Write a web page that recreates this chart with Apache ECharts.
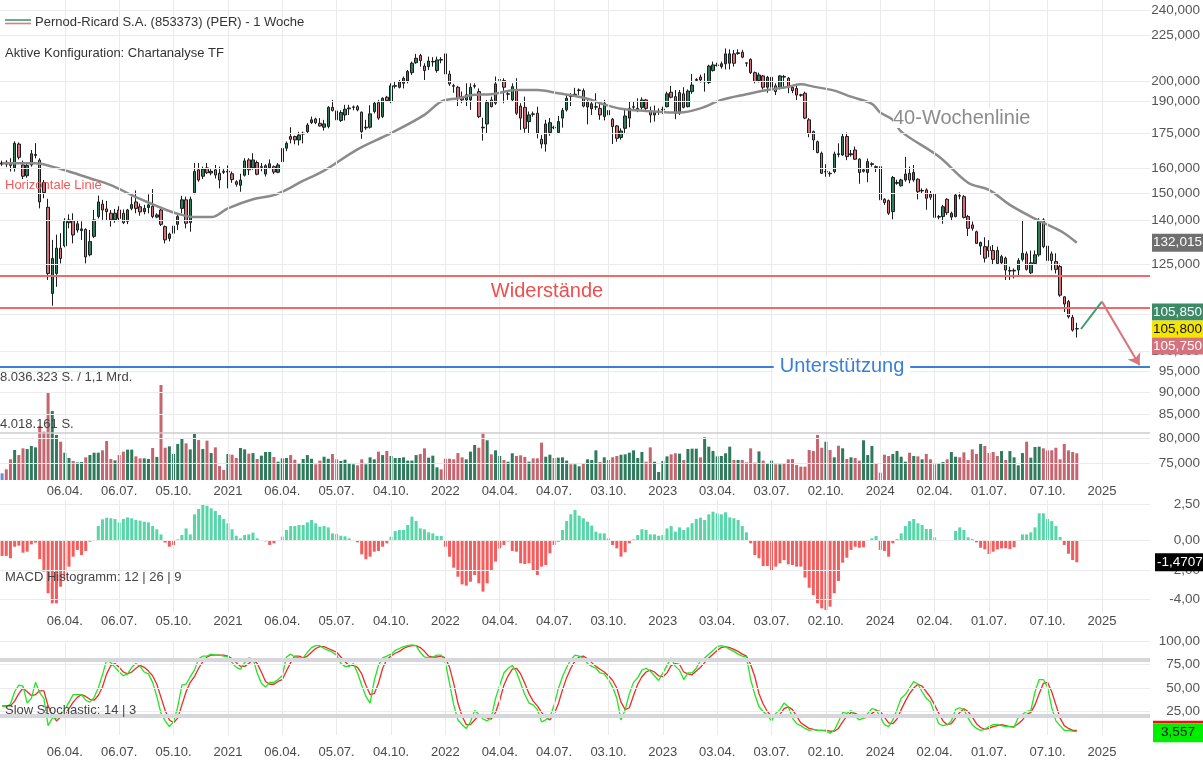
<!DOCTYPE html>
<html><head><meta charset="utf-8">
<script src="https://cdn.jsdelivr.net/npm/echarts@6/dist/echarts.min.js"></script>
<style>html,body{margin:0;padding:0;background:#fff}#c{width:1203px;height:766px}</style>
</head><body><div id="c"></div>
<script>
// ---------- DATA ----------
// weekly candles from week of 2019-12-23: [open, high, low, close] (EUR)
const weeklyOHLC = [
[161.6,163.0,160.8,162.0],[162.4,163.2,160.3,161.5],[162.0,164.0,158.5,161.0],[160.0,171.3,158.5,170.4],[170.1,170.8,163.5,164.4],
[161.2,163.0,155.5,156.6],[156.8,162.2,156.0,161.0],[161.2,167.5,160.5,165.9],[165.2,170.5,164.0,165.6],[163.2,164.0,144.2,146.6],
[154.1,155.1,148.0,150.2],[144.6,147.8,120.0,122.0],[115.9,133.0,112.3,126.8],[122.0,134.8,117.9,130.2],[130.2,135.3,125.2,126.8],
[131.0,140.6,130.5,139.4],[139.0,142.0,137.0,140.0],[139.7,142.4,131.8,134.7],[136.4,140.0,135.5,138.6],[136.2,139.5,133.0,136.8],
[136.6,137.0,125.2,127.3],[128.0,136.4,127.5,132.4],[134.2,143.6,133.6,140.0],[141.2,149.0,140.5,146.6],[145.8,147.4,140.0,143.6],
[144.0,147.0,140.0,143.0],[142.4,143.6,137.6,140.0],[140.0,144.0,139.0,142.4],[143.6,145.0,139.5,140.5],[142.4,143.8,138.5,139.0],
[139.5,144.0,138.5,143.6],[144.2,148.6,143.5,145.6],[146.6,151.0,142.4,144.2],[144.8,146.0,141.5,142.9],[143.0,145.5,142.0,144.2],
[144.5,149.5,142.4,145.5],[145.0,151.5,140.6,141.2],[141.0,142.4,140.6,141.8],[143.6,144.0,137.8,138.4],[137.6,138.0,131.8,133.0],
[133.5,135.5,132.5,135.0],[135.3,138.5,134.5,137.8],[138.4,141.8,136.4,141.2],[144.2,148.9,142.4,147.4],[147.4,148.6,137.0,138.8],
[139.0,148.6,135.8,147.6],[150.1,162.0,149.5,158.5],[159.2,162.0,154.4,155.1],[156.6,160.5,155.5,159.5],[160.0,162.0,157.5,158.0],
[157.9,159.5,157.0,158.6],[159.2,161.2,155.7,157.1],[157.8,160.5,151.8,155.1],[158.6,159.5,157.5,158.2],[158.3,161.0,151.8,158.6],
[157.6,158.5,154.0,155.3],[154.4,155.0,152.5,153.4],[153.0,157.6,150.5,155.1],[157.0,164.0,156.5,162.9],[163.3,164.0,157.1,159.2],
[160.0,166.1,159.2,163.3],[162.2,163.0,157.0,157.4],[160.2,162.0,158.6,160.5],[157.5,161.5,156.5,160.9],[160.0,163.5,159.5,161.7],
[160.5,161.0,157.5,158.3],[158.2,162.0,157.8,161.2],[162.6,169.0,161.5,168.2],[168.3,171.2,167.0,170.4],[173.4,177.6,170.4,172.2],
[173.4,173.8,170.0,171.9],[171.9,175.5,169.5,174.1],[174.5,175.6,170.4,174.9],[175.6,179.5,175.0,178.6],[179.7,182.5,179.1,181.0],
[181.4,182.0,179.0,179.7],[179.4,181.8,177.9,178.2],[177.6,181.0,176.1,179.1],[177.9,187.5,177.1,186.9],[186.9,190.5,184.9,185.4],
[185.2,186.4,179.1,181.0],[180.7,185.5,180.0,184.4],[183.3,188.1,180.7,186.0],[186.2,188.1,183.3,186.6],[186.9,187.8,185.5,187.1],
[187.2,188.0,185.0,185.7],[184.6,184.9,172.4,175.6],[177.3,181.0,176.4,177.6],[177.6,187.9,177.0,183.8],[184.9,189.6,184.0,188.9],
[189.2,190.5,181.0,181.8],[182.5,191.8,181.8,191.3],[191.8,192.5,189.5,190.2],[189.7,198.8,188.9,197.5],[197.3,199.7,196.2,197.6],
[196.8,200.5,196.2,199.7],[198.8,202.3,196.2,201.4],[200.0,205.7,198.8,204.9],[204.3,210.2,203.1,209.3],[209.6,214.4,209.0,212.0],
[213.5,214.4,207.5,210.7],[207.8,209.3,200.5,205.4],[207.5,212.9,205.7,210.5],[210.0,212.6,207.5,210.3],[205.4,212.9,204.3,211.1],
[211.3,212.6,209.3,211.0],[214.4,217.0,201.4,203.6],[203.6,205.4,197.5,198.5],[197.6,198.5,194.0,197.3],[196.8,197.5,187.5,191.3],
[192.1,194.6,188.9,190.5],[190.5,198.8,187.5,193.0],[190.5,198.8,185.7,196.8],[197.3,198.8,196.2,197.6],[194.6,196.2,181.8,182.5],
[177.6,182.0,171.6,177.3],[179.1,190.5,174.9,189.2],[190.5,192.1,186.9,187.2],[188.9,202.3,188.1,198.5],[200.3,203.6,198.8,200.7],
[200.2,201.4,188.9,196.8],[193.3,195.4,190.5,193.5],[190.5,198.8,189.7,197.1],[195.4,201.4,183.3,184.1],[187.5,188.9,176.4,181.8],
[186.9,192.1,175.1,177.1],[180.2,184.9,174.5,183.3],[183.8,184.9,182.5,183.6],[184.1,187.2,172.6,174.9],[172.2,174.1,168.2,170.1],
[170.1,181.0,166.8,179.1],[175.2,181.8,173.8,179.7],[177.6,178.3,176.7,177.3],[175.2,182.8,174.9,180.2],[181.8,186.6,177.4,185.4],
[185.7,192.9,184.9,191.3],[192.4,193.8,187.5,192.1],[193.0,196.5,192.1,193.3],[195.2,196.2,193.0,195.4],[195.1,196.2,186.9,187.5],
[187.1,190.5,178.9,189.7],[186.2,189.7,183.3,188.6],[187.0,193.8,185.7,187.2],[186.4,189.7,181.0,183.3],[182.5,190.5,180.7,188.9],
[185.4,187.2,182.5,183.3],[181.3,181.8,170.1,177.9],[178.2,178.6,171.1,172.6],[173.0,177.1,172.0,175.9],[177.1,186.6,174.5,182.8],
[181.8,189.7,177.6,186.4],[187.0,189.7,185.4,187.2],[185.4,191.3,184.6,186.4],[186.9,191.8,185.9,190.5],[190.5,191.0,185.5,186.4],
[184.9,187.2,179.7,183.3],[183.3,187.8,180.2,184.6],[184.6,186.4,183.3,185.1],[185.7,187.2,183.8,186.0],[187.2,194.6,186.9,193.5],
[194.3,197.5,191.3,191.8],[192.1,195.4,181.3,184.1],[184.1,195.4,183.3,194.1],[193.5,196.8,186.4,186.9],[187.2,195.7,186.9,194.9],
[194.6,203.6,193.5,197.9],[200.3,201.4,199.7,200.7],[202.0,203.3,199.2,200.5],[199.5,204.0,194.6,199.7],[199.2,208.5,198.5,207.8],
[205.4,210.2,204.9,208.4],[208.1,209.6,207.5,208.4],[207.5,210.2,206.4,209.0],[209.0,217.4,206.0,214.4],[209.3,216.9,206.0,214.4],
[214.4,216.6,207.5,209.3],[214.6,216.9,213.9,215.0],[215.3,216.6,212.0,212.6],[209.5,209.6,207.5,209.3],[211.4,211.9,203.6,204.3],
[204.3,204.9,198.8,199.7],[200.2,204.3,199.2,203.1],[202.6,203.1,195.7,196.8],[196.8,202.6,194.0,201.9],[196.8,202.6,195.4,201.9],
[197.5,198.8,192.9,194.6],[196.8,203.1,195.7,202.6],[202.3,203.1,196.2,202.0],[201.4,202.0,193.8,196.8],[196.8,197.5,193.8,195.1],
[196.2,197.5,190.5,192.9],[193.0,193.5,192.1,192.8],[193.8,194.6,181.3,181.8],[181.0,181.8,173.1,174.9],[175.6,176.1,167.5,171.9],
[171.1,171.6,166.1,166.4],[166.1,166.8,157.5,157.8],[158.3,161.5,156.4,158.5],[157.8,158.5,156.4,157.6],[158.5,166.8,157.8,165.8],
[165.9,170.4,164.4,165.6],[165.4,174.9,165.0,173.4],[173.4,175.2,163.2,164.7],[165.5,167.5,164.7,165.9],[167.5,169.0,163.3,163.6],
[163.6,164.0,153.6,158.1],[158.6,159.9,158.1,159.2],[158.1,163.9,154.2,162.6],[161.4,162.3,160.5,161.7],[160.5,161.0,158.3,160.2],
[160.5,160.8,143.0,147.4],[147.6,148.0,145.5,146.4],[147.1,147.5,141.8,142.4],[143.0,156.7,140.2,156.1],[153.8,155.2,153.2,154.1],
[152.8,155.6,152.5,155.1],[155.1,164.6,154.4,157.5],[157.8,160.5,153.8,155.1],[155.1,161.2,154.4,158.1],[155.4,155.8,147.6,150.5],
[150.8,151.8,149.9,151.0],[151.2,151.8,143.7,148.0],[149.5,150.8,147.4,148.4],[149.6,149.9,140.2,140.9],[141.0,141.8,140.2,141.2],
[141.2,145.5,138.6,144.8],[147.6,148.0,141.8,142.6],[141.0,143.0,139.7,142.4],[141.2,149.9,140.9,149.2],[149.0,150.2,147.6,148.8],
[148.6,149.2,140.5,140.9],[141.2,141.8,134.3,137.0],[138.2,139.4,136.2,137.0],[135.8,136.2,131.6,131.8],[130.9,132.4,128.0,132.1],
[130.7,133.9,125.5,126.9],[130.7,132.9,127.2,129.4],[129.4,131.3,125.0,126.5],[129.4,130.7,125.0,125.2],[125.4,128.0,125.0,127.4],
[126.9,127.4,120.0,123.1],[122.8,124.2,120.0,122.9],[122.8,123.6,120.5,123.0],[123.1,126.9,121.0,126.1],[126.5,140.0,125.8,128.5],
[128.3,129.1,122.9,123.3],[122.2,129.4,121.8,125.4],[125.2,129.4,124.7,128.0],[128.0,140.6,127.4,139.4],[140.0,140.6,130.2,130.7],
[130.9,131.6,125.8,126.1],[128.3,129.1,123.0,126.1],[125.8,128.5,122.0,123.3],[124.2,125.1,114.9,115.4],[114.9,115.1,110.5,112.8],
[113.5,114.0,108.7,109.2],[109.0,109.7,105.1,105.5],[105.9,107.5,103.5,105.8]
];
// weekly volume, million shares
const volumeMio = [
0.56,0.90,1.75,2.54,2.11,2.68,2.62,2.88,2.76,4.57,
4.09,7.44,5.84,3.81,3.24,2.31,1.86,1.61,1.49,1.52,
1.92,2.11,2.31,2.31,2.51,3.30,1.78,1.66,2.11,2.40,
2.57,2.57,2.00,1.83,1.83,1.78,2.71,1.95,8.036323,2.73,
2.85,2.20,3.05,3.47,3.10,2.59,3.89,3.38,2.62,3.33,
2.28,2.76,1.18,0.85,2.20,2.14,1.86,2.71,2.59,2.23,
2.28,1.78,2.06,2.37,2.37,1.95,1.55,1.83,1.86,2.11,
1.72,1.41,1.78,2.11,1.80,1.33,1.64,1.97,1.80,2.20,
1.75,1.61,1.72,1.41,1.33,1.24,1.75,1.33,1.92,1.75,
2.40,2.11,2.45,2.03,1.86,1.86,1.92,1.64,1.64,2.11,
2.20,2.68,1.89,2.06,1.07,0.90,1.80,1.80,1.75,2.28,
1.92,1.75,2.40,2.96,2.73,3.95,3.36,2.17,2.51,2.03,
1.69,1.55,2.26,2.03,2.09,1.95,1.55,1.83,1.83,3.16,
1.97,2.14,1.86,1.89,1.92,1.64,1.33,1.33,1.16,1.41,
1.75,1.69,2.51,1.52,1.92,1.69,1.92,2.03,2.14,2.17,
2.31,2.51,1.86,2.37,1.55,2.76,1.55,0.68,1.61,2.00,
2.17,2.26,2.23,1.69,2.62,2.65,2.65,1.92,3.61,2.82,
2.45,2.00,2.03,2.26,2.82,1.69,1.69,1.69,1.49,2.68,
1.47,2.42,1.64,1.35,1.64,1.33,1.33,1.35,1.75,1.78,
1.27,1.13,1.13,2.54,2.45,3.81,2.73,3.24,2.54,1.92,
2.90,2.68,1.78,1.92,1.86,1.64,3.36,2.11,2.88,1.41,
0.62,2.14,2.03,2.20,2.45,1.97,1.55,2.31,2.03,2.00,
1.75,2.20,1.75,1.33,1.41,1.52,1.75,2.37,1.97,1.92,
2.34,1.69,2.59,2.20,3.05,2.88,2.28,2.37,2.03,2.45,
1.69,2.45,1.92,1.24,2.28,3.24,1.89,2.79,2.82,2.68,
2.51,2.51,2.73,1.75,3.05,2.51,2.37,2.26
];
// MACD histogram 12|26|9
const macdHist = [
-1.04,-1.04,-1.20,-0.41,-0.34,-0.82,-0.75,-0.25,-0.13,-1.25,
-2.11,-3.59,-4.28,-4.28,-3.14,-2.57,-1.77,-1.09,-0.63,-0.98,
-0.70,-0.07,0.05,1.00,1.46,1.57,1.53,1.48,1.25,1.48,
1.59,1.53,1.41,1.37,1.30,1.25,1.00,0.78,0.43,-0.13,
-0.41,-0.29,0.09,0.39,0.84,0.43,1.80,2.16,2.44,2.39,
2.21,2.03,1.75,1.48,1.19,0.78,0.34,0.16,0.39,0.43,
0.55,0.16,0.00,-0.04,-0.29,-0.18,0.02,0.28,0.73,1.00,
1.00,1.07,1.07,1.25,1.41,1.19,0.96,1.00,0.91,0.50,
0.46,0.34,0.30,0.16,0.05,-0.11,-0.93,-1.27,-1.09,-0.75,
-0.70,-0.41,-0.18,0.28,0.66,0.73,0.73,1.07,1.64,1.34,
0.84,0.78,0.57,0.50,0.32,0.32,-0.41,-1.09,-1.84,-2.46,
-2.98,-3.07,-2.80,-2.34,-2.91,-3.48,-2.91,-2.07,-1.43,-0.52,
-0.29,-0.05,-0.70,-0.75,-1.54,-1.59,-1.54,-2.00,-2.34,-1.77,
-1.66,-0.86,-0.29,-0.07,0.73,1.34,1.80,2.10,1.71,1.53,
1.30,1.03,0.62,0.50,0.50,0.16,-0.29,-0.52,-1.09,-0.79,
-0.18,0.09,0.39,0.78,0.73,0.43,0.43,0.34,0.39,0.84,
1.00,0.62,0.91,0.73,0.91,1.19,1.48,1.57,1.41,1.80,
1.98,1.87,1.80,1.94,1.59,1.53,1.41,1.00,0.57,-0.18,
-0.98,-1.20,-1.73,-1.73,-2.05,-1.77,-1.54,-1.32,-1.61,-1.66,
-1.77,-1.77,-2.52,-3.21,-3.71,-4.28,-4.62,-4.73,-4.50,-3.59,
-2.75,-1.50,-1.16,-0.63,-0.41,-0.48,-0.45,0.02,0.16,0.32,
-0.63,-0.70,-1.09,-0.18,0.12,0.50,1.00,1.34,1.48,1.19,
1.07,0.80,0.80,0.23,0.02,0.05,0.05,0.05,0.66,0.91,
0.73,0.23,0.12,-0.11,-0.48,-0.59,-0.91,-0.75,-0.59,-0.52,
-0.52,-0.57,-0.45,0.00,0.43,0.43,0.57,0.91,1.87,1.87,
1.48,1.34,1.00,0.25,-0.29,-0.89,-1.32,-1.47071
];
// Slow stochastic 14|3: %K (green) and %D (red)
const stochK = [
31,30,33,46,53,52,34,39,56,45, 39,10,18,18,22,27,35,43,43,43,
37,35,40,50,64,80,77,72,67,63, 65,72,76,73,67,65,56,41,23,15,
9,14,30,53,54,62,69,81,84,84, 86,85,85,84,83,77,72,70,77,82,
81,66,55,51,56,56,59,63,83,86, 83,82,82,88,93,95,95,92,90,88,
85,76,73,73,76,66,53,41,34,58, 74,82,84,86,90,92,94,95,96,95,
88,83,82,83,85,85,77,55,32,16, 11,7,14,26,22,17,15,19,39,53,
66,71,74,67,55,43,34,32,27,14, 16,19,32,49,62,72,80,85,84,82,
76,73,71,66,65,59,51,39,16,27, 44,56,61,69,71,68,63,58,66,74,
82,73,69,59,66,66,71,79,82,86, 90,94,95,94,91,89,86,84,83,59,
43,30,25,21,15,23,27,34,30,18, 12,10,7,5,6,5,5,4,2,5,
14,24,23,26,20,16,18,23,28,27, 19,11,9,16,27,39,43,50,57,54,
46,39,35,23,12,10,11,15,27,29, 27,18,11,7,5,6,9,11,11,10,
9,9,8,19,22,25,26,46,59,59, 51,29,15,10,5,5,4,3.557
];
const stochD = [
31,31,31,36,44,50,46,42,43,47, 47,31,22,15,19,22,28,35,40,43,
41,38,37,42,51,65,74,76,72,67, 65,67,71,74,72,68,63,54,40,26,
16,13,18,32,46,56,62,71,78,83, 85,85,85,85,84,81,77,73,73,76,
80,76,67,57,54,54,57,59,68,77, 84,84,82,84,88,92,94,94,92,90,
88,83,78,74,74,72,65,53,43,44, 55,71,80,84,87,89,92,94,95,95,
93,89,84,83,83,84,82,72,55,34, 20,11,11,16,21,22,18,17,24,37,
53,63,70,71,65,55,44,36,31,24, 19,16,22,33,48,61,71,79,83,84,
81,77,73,70,67,63,58,50,35,27, 29,42,54,62,67,69,67,63,62,66,
74,76,75,67,65,64,68,72,77,82, 86,90,93,94,93,91,89,86,84,75,
62,44,33,25,20,20,22,28,30,27, 20,13,10,7,6,5,5,5,4,4,
7,14,20,24,23,21,18,19,23,26, 25,19,13,12,17,27,36,44,50,54,
52,46,40,32,23,15,11,12,18,24, 28,25,19,12,8,6,7,9,10,11,
10,9,9,12,16,22,24,32,44,55, 56,46,32,18,10,7,5,5
];
// 40-week line, read at knots: [week index, value]
const ma40Knots = [
[0,161.9],[8,161.9],[12,160.5],[16,158.5],[21,155.8],[26,153.1],[31,149.2],[35,146.4],[39,143.8],[43,141.8],
[46,141.0],[50,141.0],[54,144.2],[60,147.6],[65,149.2],[69,152.1],[71,154.0],[77,158.9],[85,167.8],[93,174.9],
[101,183.3],[105,189.7],[109,191.3],[113,193.0],[117,193.3],[123,195.4],[128,195.4],[133,193.8],[137,192.4],[141,190.5],
[143,188.9],[148,186.2],[154,185.2],[162,184.4],[167,186.4],[172,190.5],[178,193.3],[183,195.4],[188,197.1],[191,198.3],
[194,197.1],[199,195.1],[203,192.1],[208,188.6],[210,184.4],[213,181.0],[215,175.6],[224,164.7],[231,154.0],[236,151.2],
[241,145.5],[246,141.2],[251,137.6],[254,135.3],[257,132.015]
];
const priceTicks = [240,225,200,190,175,160,150,140,125,110,100,95,90,85,80,75];
const macdTicks = [2.5,0,-2,-4];
const stochTicks = [100,75,50,25];
const stochBands = [80,20];
const xTickLabels = [
['2020-04-06','06.04.'],['2020-07-06','06.07.'],['2020-10-05','05.10.'],['2021-01-04','2021'],
['2021-04-05','06.04.'],['2021-07-05','05.07.'],['2021-10-04','04.10.'],['2022-01-03','2022'],
['2022-04-04','04.04.'],['2022-07-04','04.07.'],['2022-10-03','03.10.'],['2023-01-02','2023'],
['2023-04-03','03.04.'],['2023-07-03','03.07.'],['2023-10-02','02.10.'],['2024-01-01','2024'],
['2024-04-01','02.04.'],['2024-07-01','01.07.'],['2024-10-07','07.10.'],['2025-01-06','2025']
];
const resistanceLevels = [121.4, 111.8];
const supportLevel = 96.0;
const arrowPath = [['2024-12-02',105.8],['2025-01-06',113.5],['2025-03-10',96.4]];
const volumeRefLines = [8.036323, 4.018161];
const lastMA = 132.015;
const lastPrices = [105.85, 105.80, 105.75];
const lastMacd = -1.47071;
const lastStoch = 3.557;

// ---------- CATEGORIES (weekly, incl. empty future weeks) ----------
const categories = [];
(function(){ const s = Date.UTC(2019,11,23); for (let i=0;i<275;i++){ categories.push(new Date(s+i*7*86400000).toISOString().slice(0,10)); } })();
const labelMap = new Map(xTickLabels);

const FONT = 'Liberation Sans, Arial, Helvetica, sans-serif';
const UP = '#2e7d5d', DOWN = '#d4707c';

function xAxisDef(gi, show, margin){
  return {type:'category', gridIndex:gi, data:categories, boundaryGap:true,
    axisLine:{show:false}, axisTick:{show:false}, splitLine:{show:false},
    axisLabel: show ? {show:true, interval:(i,v)=>labelMap.has(v), formatter:v=>labelMap.get(v)||'',
      color:'#4a4a4a', fontSize:13, fontFamily:FONT, margin:margin} : {show:false}};
}
const gridLineStyle = {color:'#ebebeb', width:1, type:'solid'};
const vLines = xTickLabels.map(t=>({xAxis:t[0]}));

const candleData = weeklyOHLC.map(r=>[r[0], r[3], r[2], r[1]]);
const volData = volumeMio.map((v,i)=>({value:v, itemStyle:{color: i===0 ? '#5b8fd9' : (weeklyOHLC[i][3] >= weeklyOHLC[i][0] ? '#2f7a5d' : '#c4656f')}}));
const macdData = macdHist.map(v=>({value:v, itemStyle:{color: v>=0 ? '#56d6a9' : '#f35d5d'}}));

const option = {
  animation:false,
  backgroundColor:'#fff',
  textStyle:{fontFamily:FONT},
  grid:[
    {left:0, right:53, top:0, height:480, containLabel:false, outerBoundsMode:'none'},
    {left:0, right:53, top:385, height:95, containLabel:false, outerBoundsMode:'none'},
    {left:0, right:53, top:500, height:113, containLabel:false, outerBoundsMode:'none'},
    {left:0, right:53, top:641, height:94, containLabel:false, outerBoundsMode:'none'}
  ],
  xAxis:[ xAxisDef(0,true,5), xAxisDef(1,false), xAxisDef(2,true,2), xAxisDef(3,true,11) ],
  yAxis:[
    {type:'log', logBase:10, gridIndex:0, min:71.8, max:246.2, show:false},
    {type:'value', gridIndex:1, min:0, max:8.036323, show:false},
    {type:'value', gridIndex:2, min:-4.935, max:2.778, show:false},
    {type:'value', gridIndex:3, min:0, max:100, show:false}
  ],
  series:[
    {type:'line', xAxisIndex:0, yAxisIndex:0, data:[], silent:true, z:1,
      markLine:{silent:true, symbol:'none', animation:false, label:{show:false}, lineStyle:gridLineStyle,
        data:[...priceTicks.map(v=>({yAxis:v})), ...vLines]}},
    {type:'bar', name:'Volumen', xAxisIndex:1, yAxisIndex:1, data:volData, barWidth:3, z:2,
      markLine:{silent:true, symbol:'none', animation:false, label:{show:false},
        lineStyle:{color:'#cdcdcd', width:1.5, type:'solid'}, data:volumeRefLines.map(v=>({yAxis:v}))}},
    {type:'candlestick', name:'Pernod-Ricard', xAxisIndex:0, yAxisIndex:0, data:candleData, barWidth:3, z:3,
      itemStyle:{color:UP, color0:DOWN, borderColor:'#1c1c1c', borderColor0:'#1c1c1c', borderWidth:1}},
    {type:'line', name:'40-Wochenlinie', xAxisIndex:0, yAxisIndex:0, data:ma40Knots, smooth:0.35, symbol:'none', z:4,
      lineStyle:{color:'#8b8b8b', width:2.5}},
    {type:'line', xAxisIndex:0, yAxisIndex:0, data:[], silent:true, z:5,
      markLine:{silent:true, symbol:'none', animation:false, label:{show:false},
        data:[
          ...resistanceLevels.map(v=>({yAxis:v, lineStyle:{color:'#f06a6a', width:2, type:'solid'}})),
          {yAxis:supportLevel, lineStyle:{color:'#3a80d6', width:2, type:'solid'}},
          [{coord:arrowPath[0], symbol:'none', lineStyle:{color:'#3f9a73', width:2, type:'solid'}},
           {coord:arrowPath[1], symbol:'none', lineStyle:{color:'#3f9a73', width:2, type:'solid'}}],
          [{coord:arrowPath[1], symbol:'none', lineStyle:{color:'#d8747e', width:2, type:'solid'}},
           {coord:arrowPath[2], symbol:'arrow', symbolSize:11, lineStyle:{color:'#d8747e', width:2, type:'solid'}}]
        ]}},
    {type:'line', xAxisIndex:2, yAxisIndex:2, data:[], silent:true, z:1,
      markLine:{silent:true, symbol:'none', animation:false, label:{show:false}, lineStyle:gridLineStyle,
        data:[...macdTicks.map(v=>({yAxis:v})), ...vLines]}},
    {type:'bar', name:'MACD Histogramm', xAxisIndex:2, yAxisIndex:2, data:macdData, barWidth:3, z:2},
    {type:'line', xAxisIndex:3, yAxisIndex:3, data:[], silent:true, z:1,
      markLine:{silent:true, symbol:'none', animation:false, label:{show:false},
        data:[...stochTicks.map(v=>({yAxis:v, lineStyle:gridLineStyle})), ...vLines.map(o=>Object.assign({lineStyle:gridLineStyle},o)),
              ...stochBands.map(v=>({yAxis:v, lineStyle:{color:'#d6d6dd', width:4, type:'solid'}}))]}},
    {type:'line', name:'%K', xAxisIndex:3, yAxisIndex:3, data:stochK, symbol:'none', z:3, lineStyle:{color:'#22e622', width:1.3}},
    {type:'line', name:'%D', xAxisIndex:3, yAxisIndex:3, data:stochD, symbol:'none', z:2, lineStyle:{color:'#ee2a2a', width:1.3}}
  ]
};

const chart = echarts.init(document.getElementById('c'), null, {renderer:'canvas'});
chart.setOption(option);

// ---------- TEXT / LABELS ----------
const fmt3 = v => v.toFixed(3).replace('.', ',');
const fmt2 = v => v.toFixed(2).replace('.', ',');
const py = (ax, v) => chart.convertToPixel({yAxisIndex:ax}, v);
function txt(x, y, text, o){ o=o||{}; return {type:'text', x:x, y:y, z:100, silent:true,
  style:Object.assign({text:text, fill:'#444', font:'13px '+FONT, align:'left', verticalAlign:'middle'}, o)}; }
function box(x, y, w, h, bg, text, fg, align){ return {type:'group', x:x, y:y-h/2, z:110, silent:true, children:[
  {type:'rect', shape:{x:0,y:0,width:w,height:h}, style:{fill:bg}, z:110},
  {type:'text', x: align==='left'?2:w/2, y:h/2, z:111, style:{text:text, fill:fg, font:'13.5px '+FONT, align: align||'center', verticalAlign:'middle'}}]}; }

const g = [];
// legend
g.push({type:'line', z:100, shape:{x1:5,y1:20,x2:31,y2:20}, style:{stroke:'#3f9a73', lineWidth:1.6}});
g.push({type:'line', z:100, shape:{x1:5,y1:23.5,x2:31,y2:23.5}, style:{stroke:'#e07c7c', lineWidth:1.6}});
g.push(txt(35, 22, 'Pernod-Ricard S.A. (853373) (PER) - 1 Woche', {fill:'#333', font:'13px '+FONT}));
g.push(txt(5, 53, 'Aktive Konfiguration: Chartanalyse TF', {fill:'#333'}));
g.push(txt(5, 185, 'Horizontale Linie', {fill:'#f25a5a'}));
g.push(txt(547, py(0, 116.4), 'Widerstände', {fill:'#f04d4d', font:'20px '+FONT, align:'center'}));
g.push(txt(842, py(0, supportLevel), 'Unterstützung', {fill:'#3a80d6', font:'20px '+FONT, align:'center', backgroundColor:'#fff', padding:[1,6,1,6]}));
g.push(txt(893, 118, '40-Wochenlinie', {fill:'#8b8b8b', font:'20px '+FONT, backgroundColor:'#fff', padding:[0,2,0,0]}));
g.push(txt(0, py(1, volumeRefLines[0]) - 8, '8.036.323 S. / 1,1 Mrd.', {fill:'#444'}));
g.push(txt(0, py(1, volumeRefLines[1]) - 8, '4.018.161 S.', {fill:'#444'}));
g.push(txt(5, 577, 'MACD Histogramm: 12 | 26 | 9', {fill:'#444'}));
g.push(txt(5, 710, 'Slow Stochastic: 14 | 3', {fill:'#444'}));
// right axis labels
priceTicks.forEach(v=>g.push(txt(1200, py(0, v), fmt3(v), {fill:'#555', font:'13.5px '+FONT, align:'right'})));
macdTicks.forEach(v=>g.push(txt(1200, py(2, v), fmt2(v), {fill:'#555', font:'13.5px '+FONT, align:'right'})));
stochTicks.forEach(v=>g.push(txt(1200, py(3, v), fmt2(v), {fill:'#555', font:'13.5px '+FONT, align:'right'})));
// value boxes
g.push(box(1152, py(0, lastMA), 51, 18, '#6f6f6f', fmt3(lastMA), '#fff'));
const yMid = py(0, lastPrices[1]);
g.push(box(1152, yMid - 17, 51, 17, '#3d8a69', fmt3(lastPrices[0]), '#fff'));
g.push(box(1152, yMid, 51, 17, '#f4e600', fmt3(lastPrices[1]), '#111'));
g.push(box(1152, yMid + 17, 51, 17, '#d4737d', fmt3(lastPrices[2]), '#fff'));
g.push(box(1155, py(2, lastMacd), 56, 18, '#000', String(lastMacd).replace('.', ','), '#fff', 'left'));
g.push({type:'rect', z:109, shape:{x:1153, y:py(3, lastStoch)-11, width:50, height:2.5}, style:{fill:'#ee1111'}});
g.push(box(1153, py(3, lastStoch)+1, 50, 19, '#00ee00', String(lastStoch).replace('.', ','), '#111'));
chart.setOption({graphic:g});
</script>
</body></html>
